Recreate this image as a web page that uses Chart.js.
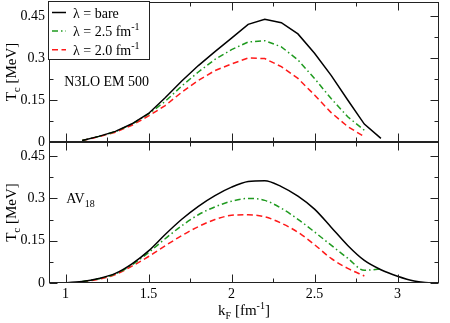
<!DOCTYPE html>
<html>
<head>
<meta charset="utf-8">
<script src="https://cdn.jsdelivr.net/npm/chart.js@4.4.0/dist/chart.umd.min.js"></script>
<style>
  html, body { margin: 0; padding: 0; background: #fff; }
  #wrap { position: relative; width: 450px; height: 323px; }
  #wrap canvas { position: absolute; left: 0; top: 0; }
</style>
</head>
<body>
<div id="wrap">
  <canvas id="topChart" width="450" height="323"></canvas>
  <canvas id="botChart" width="450" height="323"></canvas>
</div>
<script>
/* ================= DATA ================= */

const xTicks = [1, 1.5, 2, 2.5, 3];
const xMinor = [1.25, 1.75, 2.25, 2.75];
const yTicks = [0, 0.15, 0.3, 0.45];
const yMinor = [0.075, 0.225, 0.375];

const seriesLabels = ["λ = bare", "λ = 2.5 fm", "λ = 2.0 fm"];
const seriesSup = ["", "-1", "-1"];

// upper panel: N3LO EM 500
const kTop = [1.1, 1.2, 1.3, 1.4, 1.5, 1.6, 1.7, 1.8, 1.9, 2.0,
              2.1, 2.2, 2.3, 2.4, 2.5, 2.6, 2.7, 2.8, 2.9];
const topBare = [0.005, 0.02, 0.038, 0.065, 0.102, 0.158, 0.218, 0.273, 0.323, 0.371,
                 0.42, 0.438, 0.426, 0.386, 0.317, 0.238, 0.15, 0.064, 0.013];
const topL25 = [0.005, 0.02, 0.037, 0.064, 0.1, 0.145, 0.2, 0.25, 0.295, 0.33,
                0.357, 0.362, 0.34, 0.293, 0.227, 0.155, 0.09, 0.042];
const topL20 = [0.005, 0.019, 0.035, 0.06, 0.093, 0.13, 0.178, 0.22, 0.255, 0.279,
                0.3, 0.298, 0.269, 0.227, 0.168, 0.105, 0.055, 0.019];

// lower panel: AV18
const kBot = [0.9, 1.0, 1.1, 1.2, 1.3, 1.4, 1.5, 1.6, 1.7, 1.8, 1.9, 2.0,
              2.1, 2.2, 2.3, 2.4, 2.5, 2.6, 2.7, 2.8, 2.9, 3.0, 3.1, 3.2];
const botBare = [0, 0.001, 0.005, 0.016, 0.034, 0.068, 0.114, 0.172, 0.226, 0.272, 0.31, 0.34,
                 0.36, 0.363, 0.342, 0.308, 0.262, 0.198, 0.133, 0.08, 0.047, 0.024, 0.007, 0];
const botL25 = [0.005, 0.015, 0.032, 0.064, 0.108, 0.157, 0.203, 0.242, 0.27, 0.29,
                0.3, 0.293, 0.265, 0.226, 0.181, 0.134, 0.088, 0.045, 0.05];
const botL20 = [0.004, 0.013, 0.03, 0.06, 0.094, 0.132, 0.168, 0.2, 0.225, 0.24,
                0.242, 0.235, 0.212, 0.18, 0.136, 0.087, 0.052, 0.025];

/* ================= HELPERS ================= */

const FONT = '"Liberation Serif", "DejaVu Serif", serif';
const tickFont = { family: FONT, size: 14 };

function pts(ks, vals, start) {
  return vals.map((v, i) => ({ x: ks[start + i], y: v }));
}

const styles = [
  { borderColor: "#000000", borderWidth: 1.5, borderDash: [] },
  { borderColor: "#1f9a1f", borderWidth: 1.5, borderDash: [6, 3, 1.5, 3] },
  { borderColor: "#ff1a1a", borderWidth: 1.5, borderDash: [6, 3.5] }
];

function makeSets(list, smooth) {
  return list.map((d, i) => Object.assign({
    label: seriesLabels[i],
    data: d,
    pointRadius: 0,
    fill: false,
    cubicInterpolationMode: smooth ? "monotone" : "default",
    tension: 0
  }, styles[i]));
}

// draw text made of pieces (sub/superscripts), left edge at x, baseline at y
function richWidth(ctx, parts) {
  let w = 0;
  parts.forEach(p => { ctx.font = p.size + "px " + FONT; w += ctx.measureText(p.t).width; });
  return w;
}
function drawRich(ctx, parts, x, y) {
  parts.forEach(p => {
    ctx.font = p.size + "px " + FONT;
    ctx.fillText(p.t, x, y + (p.dy || 0));
    x += ctx.measureText(p.t).width;
  });
}

/* ================= FRAME / LEGEND PLUGIN ================= */

const panelDecor = {
  id: "panelDecor",
  afterDraw(chart, args, opts) {
    const ctx = chart.ctx;
    const a = chart.chartArea;
    const xs = chart.scales.x, ys = chart.scales.y;
    ctx.save();
    ctx.strokeStyle = "#222";
    ctx.fillStyle = "#000";
    ctx.lineWidth = 1;
    ctx.setLineDash([]);

    const L = Math.round(a.left) + 0.5, R = Math.round(a.right) - 0.5;
    const T = Math.round(a.top) + 0.5, B = Math.round(a.bottom) - 0.5;
    ctx.strokeRect(L, T, R - L, B - T);

    ctx.beginPath();
    const xt = (v, len) => {
      const px = Math.round(xs.getPixelForValue(v)) + 0.5;
      ctx.moveTo(px, B); ctx.lineTo(px, B - len);
      ctx.moveTo(px, T); ctx.lineTo(px, T + len);
    };
    const yt = (v, len) => {
      const py = Math.round(ys.getPixelForValue(v)) + 0.5;
      ctx.moveTo(L, py); ctx.lineTo(L + len, py);
      ctx.moveTo(R, py); ctx.lineTo(R - len, py);
    };
    xTicks.forEach(v => xt(v, 8));
    xMinor.forEach(v => xt(v, 4));
    yTicks.forEach(v => yt(v, 8));
    yMinor.forEach(v => yt(v, 4));
    ctx.stroke();

    // y title
    ctx.textBaseline = "alphabetic";
    const yTitle = [{ t: "T", size: 15 }, { t: "c", size: 11, dy: 4 }, { t: " [MeV]", size: 15 }];
    ctx.save();
    ctx.translate(16, (a.top + a.bottom) / 2);
    ctx.rotate(-Math.PI / 2);
    drawRich(ctx, yTitle, -richWidth(ctx, yTitle) / 2, 0);
    ctx.restore();

    // panel note
    if (opts.note) {
      const nx = xs.getPixelForValue(opts.noteAt[0]);
      const ny = ys.getPixelForValue(opts.noteAt[1]);
      drawRich(ctx, opts.note, nx, ny);
    }

    // x title
    if (opts.xTitle) {
      const xTitle = [{ t: "k", size: 15 }, { t: "F", size: 10, dy: 4 }, { t: " [fm", size: 15 },
                      { t: "-1", size: 10, dy: -6 }, { t: "]", size: 15 }];
      drawRich(ctx, xTitle, (a.left + a.right) / 2 - richWidth(ctx, xTitle) / 2, 315);
    }

    // legend
    if (opts.legend) {
      const bx = L - 1, by = T - 1;
      ctx.fillStyle = "#fff";
      ctx.fillRect(bx, by, 101, 58);
      ctx.strokeRect(bx, by, 101, 58);
      chart.data.datasets.forEach((ds, i) => {
        const ry = a.top + 10.5 + i * 18.6;
        ctx.strokeStyle = ds.borderColor;
        ctx.lineWidth = ds.borderWidth;
        ctx.setLineDash(ds.borderDash);
        ctx.beginPath();
        ctx.moveTo(a.left + 3, ry);
        ctx.lineTo(a.left + 17, ry);
        ctx.stroke();
        ctx.setLineDash([]);
        ctx.fillStyle = "#000";
        const parts = [{ t: ds.label, size: 14 }];
        if (seriesSup[i]) parts.push({ t: seriesSup[i], size: 10, dy: -6 });
        drawRich(ctx, parts, a.left + 24, ry + 5);
      });
    }
    ctx.restore();
  }
};

/* ================= CHARTS ================= */

function makePanel(id, sets, pad, showX, decor) {
  return new Chart(document.getElementById(id), {
    type: "line",
    data: { datasets: sets },
    options: {
      responsive: false,
      animation: false,
      events: [],
      layout: { padding: pad },
      plugins: {
        legend: { display: false },
        tooltip: { enabled: false },
        panelDecor: decor
      },
      scales: {
        x: {
          type: "linear",
          min: 0.9,
          max: 3.25,
          display: showX,
          grid: { display: false, drawTicks: false },
          border: { display: false },
          afterBuildTicks: s => { s.ticks = xTicks.map(v => ({ value: v })); },
          afterFit: s => {
            s.height = s.options.display ? 40 : 0;
            s.paddingLeft = 0;
            s.paddingRight = 0;
          },
          ticks: {
            color: "#000",
            padding: 3,
            font: tickFont,
            maxRotation: 0,
            autoSkip: false,
            callback: v => String(v)
          }
        },
        y: {
          type: "linear",
          min: 0,
          max: 0.5,
          grid: { display: false, drawTicks: false },
          border: { display: false },
          afterBuildTicks: s => { s.ticks = yTicks.map(v => ({ value: v })); },
          afterFit: s => {
            s.width = 49;
            s.paddingTop = 0;
            s.paddingBottom = 0;
          },
          ticks: {
            color: "#000",
            padding: 4,
            font: tickFont,
            autoSkip: false,
            callback: v => String(v)
          }
        }
      }
    },
    plugins: [panelDecor]
  });
}

const topChart = makePanel(
  "topChart",
  makeSets([pts(kTop, topBare, 0), pts(kTop, topL25, 0), pts(kTop, topL20, 0)], false),
  { top: 2, right: 11, bottom: 181, left: 0 },
  false,
  { legend: true, note: [{ t: "N3LO EM 500", size: 14 }], noteAt: [0.992, 0.2] }
);

const botChart = makePanel(
  "botChart",
  makeSets([pts(kBot, botBare, 0), pts(kBot, botL25, 2), pts(kBot, botL20, 2)], true),
  { top: 142, right: 11, bottom: 0, left: 0 },
  true,
  { xTitle: true, note: [{ t: "AV", size: 14 }, { t: "18", size: 10, dy: 4 }], noteAt: [1.004, 0.282] }
);
</script>
</body>
</html>
